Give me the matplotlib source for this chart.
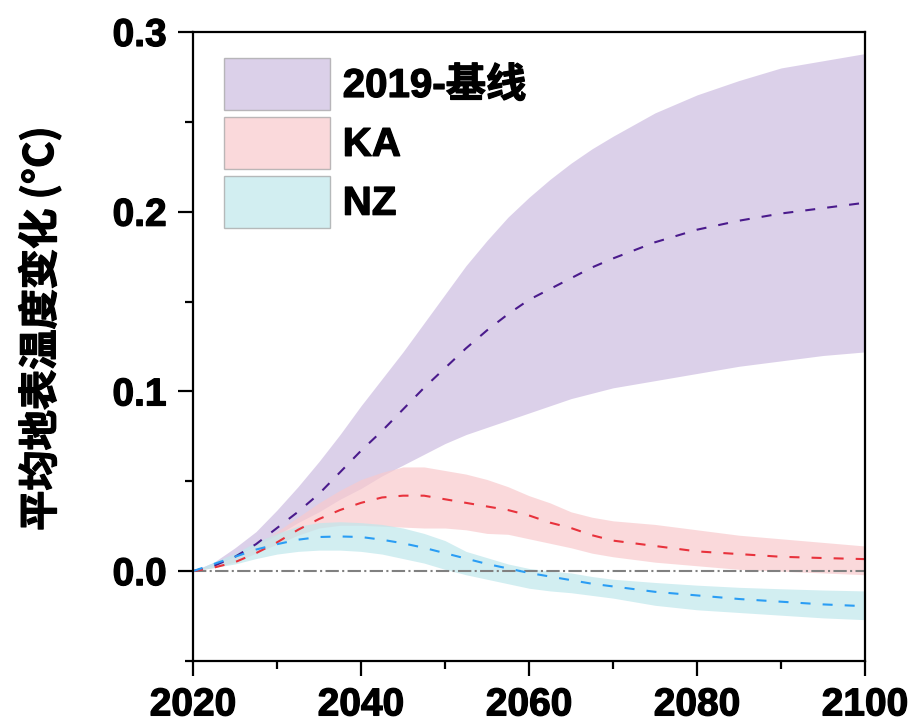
import numpy as np
import matplotlib
matplotlib.use('Agg')
import matplotlib.pyplot as plt
import matplotlib.patheffects as pe
from matplotlib.patches import Patch

plt.rcParams['font.family'] = ['Liberation Sans', 'Noto Sans CJK SC', 'DejaVu Sans']
plt.rcParams['font.weight'] = 'bold'

# 数据
years = [2020, 2022.5, 2025, 2027.5, 2030, 2032.5, 2035, 2037.5, 2040, 2042.5,
         2045, 2047.5, 2050, 2052.5, 2055, 2057.5, 2060, 2062.5, 2065, 2067.5,
         2070, 2075, 2080, 2085, 2090, 2095, 2100]

base_mean = [0, 0.003, 0.008, 0.015, 0.024, 0.033, 0.043, 0.055, 0.067, 0.078,
             0.090, 0.102, 0.113, 0.124, 0.134, 0.143, 0.151, 0.157, 0.163, 0.169,
             0.174, 0.183, 0.190, 0.195, 0.199, 0.202, 0.205]
base_upper = [0, 0.005, 0.013, 0.022, 0.034, 0.047, 0.061, 0.076, 0.092, 0.107,
              0.122, 0.138, 0.154, 0.170, 0.184, 0.197, 0.208, 0.218, 0.227, 0.235,
              0.242, 0.255, 0.265, 0.273, 0.280, 0.284, 0.288]
base_lower = [0, 0.003, 0.008, 0.014, 0.020, 0.027, 0.033, 0.040, 0.046, 0.053,
              0.059, 0.065, 0.071, 0.076, 0.080, 0.084, 0.088, 0.092, 0.096, 0.099,
              0.102, 0.106, 0.110, 0.114, 0.117, 0.120, 0.122]

ka_mean = [0, 0.002, 0.005, 0.010, 0.016, 0.023, 0.029, 0.034, 0.038, 0.041,
           0.042, 0.042, 0.040, 0.038, 0.036, 0.034, 0.031, 0.027, 0.024, 0.020,
           0.017, 0.014, 0.011, 0.0095, 0.008, 0.0073, 0.0067]
ka_upper = [0, 0.003, 0.008, 0.014, 0.022, 0.030, 0.038, 0.045, 0.051, 0.055,
            0.058, 0.058, 0.056, 0.054, 0.051, 0.047, 0.042, 0.038, 0.033, 0.030,
            0.028, 0.026, 0.023, 0.020, 0.018, 0.016, 0.014]
ka_lower = [0, 0.002, 0.005, 0.010, 0.015, 0.020, 0.024, 0.0255, 0.0255, 0.025,
            0.0245, 0.024, 0.024, 0.023, 0.021, 0.0205, 0.018, 0.0155, 0.013, 0.010,
            0.008, 0.005, 0.003, 0.001, 0.0, -0.001, -0.002]

nz_mean = [0, 0.004, 0.008, 0.012, 0.015, 0.0175, 0.019, 0.0193, 0.019, 0.0175,
           0.0155, 0.013, 0.010, 0.007, 0.004, 0.0015, -0.001, -0.003, -0.005, -0.007,
           -0.0085, -0.0115, -0.0135, -0.0155, -0.017, -0.0185, -0.0195]
nz_upper = [0, 0.005, 0.010, 0.016, 0.021, 0.025, 0.027, 0.0275, 0.027, 0.026,
            0.024, 0.021, 0.017, 0.011, 0.0075, 0.004, 0.0015, 0.0, -0.001, -0.003,
            -0.0045, -0.0063, -0.0078, -0.009, -0.0098, -0.0105, -0.011]
nz_lower = [0, 0.002, 0.004, 0.007, 0.0095, 0.011, 0.0117, 0.0117, 0.011, 0.0095,
            0.007, 0.0045, 0.001, -0.002, -0.0045, -0.007, -0.0095, -0.011, -0.012, -0.0135,
            -0.015, -0.019, -0.0215, -0.023, -0.0245, -0.026, -0.027]

labels = ['2019-基线', 'KA', 'NZ']
fill_colors = ['#cdbce1', '#f8cacd', '#bfe7ec']
line_colors = ['#4a1a8c', '#e8323c', '#2a9df4']

fig = plt.figure(figsize=(9.12, 7.24), dpi=100)
ax = fig.add_axes([0.2116, 0.087, 0.7369, 0.8688])

bands = [(base_lower, base_upper, base_mean),
         (ka_lower, ka_upper, ka_mean),
         (nz_lower, nz_upper, nz_mean)]
for (lo, hi, mid), fc in zip(bands, fill_colors):
    ax.fill_between(years, lo, hi, color=fc, alpha=0.7, linewidth=0)
for (lo, hi, mid), lc in zip(bands, line_colors):
    ax.plot(years, mid, color=lc, linewidth=1.5, dashes=(4.8, 5.8))

ax.axhline(0, color='#808080', linewidth=1.5, linestyle='-.', zorder=1)

ax.set_xlim(2020, 2100)
ax.set_ylim(-0.05, 0.3)
ax.set_xticks([2020, 2040, 2060, 2080, 2100])
ax.set_xticks([2030, 2050, 2070, 2090], minor=True)
ax.set_yticks([0.0, 0.1, 0.2, 0.3])
ax.set_yticks([-0.05, 0.05, 0.15, 0.25], minor=True)
ax.set_yticklabels(['0.0', '0.1', '0.2', '0.3'])

for s in ax.spines.values():
    s.set_linewidth(1.6)
ax.tick_params(which='major', length=11, width=1.6, labelsize=28, pad=8)
ax.tick_params(which='minor', length=6, width=1.6)

# 加粗效果
heavy = [pe.withStroke(linewidth=0.9, foreground='black')]
for t in ax.get_xticklabels() + ax.get_yticklabels():
    t.set_path_effects(heavy)

ax.set_ylabel('平均地表温度变化 (°C)', fontsize=29, fontweight='bold',
              family=['Noto Sans CJK SC', 'DejaVu Sans'], path_effects=heavy)
ax.yaxis.set_label_coords(-0.195, 0.528)

handles = [Patch(facecolor=fc, alpha=0.7, edgecolor='#a0a0a0', linewidth=1)
           for fc in fill_colors]
leg = ax.legend(handles, labels, loc='upper left', bbox_to_anchor=(0.046, 0.959),
                borderaxespad=0, borderpad=0, frameon=False, fontsize=29,
                handlelength=2.63, handleheight=1.61, labelspacing=0.17,
                handletextpad=0.32)
for t in leg.get_texts():
    t.set_path_effects(heavy)

fig.savefig('out.png', dpi=100)
